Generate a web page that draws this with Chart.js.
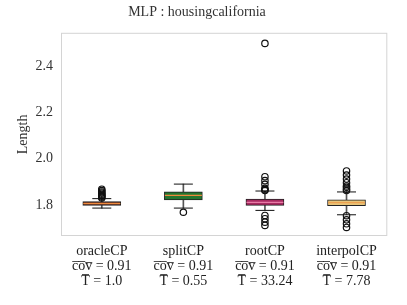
<!DOCTYPE html>
<html>
<head>
<meta charset="utf-8">
<script src="https://cdn.jsdelivr.net/npm/chart.js@4/dist/chart.umd.min.js"></script>
<style>
  html, body { margin: 0; padding: 0; background: #fff; }
  #wrap { width: 407px; height: 305px; }
</style>
</head>
<body>
<div id="wrap"><canvas id="boxChart"></canvas></div>
<script>
// values
const methods    = ['oracleCP', 'splitCP', 'rootCP', 'interpolCP'];
const covValues  = ['0.91', '0.91', '0.91', '0.91'];
const timeValues = ['1.0', '0.55', '33.24', '7.78'];

const whiskerLow  = [1.786, 1.786, 1.776, 1.757];
const q1          = [1.798, 1.821, 1.798, 1.796];
const median      = [1.806, 1.841, 1.811, 1.810];
const q3          = [1.814, 1.857, 1.825, 1.822];
const whiskerHigh = [1.827, 1.890, 1.860, 1.856];

const outliers = [
  [1.830, 1.834, 1.838, 1.842, 1.846, 1.851, 1.856, 1.862, 1.868],
  [1.768],
  [1.711, 1.725, 1.740, 1.754, 1.862, 1.866, 1.872, 1.889, 1.905, 1.922, 2.500],
  [1.702, 1.718, 1.735, 1.753, 1.862, 1.868, 1.876, 1.882, 1.896, 1.912, 1.929, 1.947]
];

const yTicks = [1.8, 2.0, 2.2, 2.4];

const boxColors    = ['#83432a', '#25752f', '#a82a60', '#e6c47a'];
const medianColors = ['#ee8a3c', '#ee8a3c', '#e87aa6', '#eda050'];

const serif = "'Liberation Serif', 'DejaVu Serif', serif";

const capPoints = [];
methods.forEach((m, i) => {
  capPoints.push({ x: m, y: whiskerLow[i] });
  capPoints.push({ x: m, y: whiskerHigh[i] });
});

const outlierPoints = [];
methods.forEach((m, i) => {
  outliers[i].forEach(v => outlierPoints.push({ x: m, y: v }));
});

const framePlugin = {
  id: 'frame',
  afterDraw(chart) {
    const a = chart.chartArea;
    const ctx = chart.ctx;
    ctx.save();
    ctx.strokeStyle = '#d4d4d4';
    ctx.lineWidth = 1;
    ctx.strokeRect(a.left + 0.5, a.top + 0.5, a.right - a.left - 1, a.bottom - a.top - 1);
    ctx.restore();
  }
};

new Chart(document.getElementById('boxChart'), {
  type: 'bar',
  data: {
    labels: methods,
    datasets: [
      {
        type: 'line',
        label: 'outliers',
        data: outlierPoints,
        showLine: false,
        pointStyle: 'circle',
        pointRadius: 3.2,
        pointBackgroundColor: 'rgba(0,0,0,0)',
        pointBorderColor: '#111',
        pointBorderWidth: 1.2,
        order: 0
      },
      {
        type: 'line',
        label: 'median',
        data: median,
        showLine: false,
        pointStyle: 'line',
        pointRadius: 18.5,
        pointBorderColor: medianColors,
        pointBorderWidth: 1.2,
        order: 1
      },
      {
        type: 'line',
        label: 'caps',
        data: capPoints,
        showLine: false,
        pointStyle: 'line',
        pointRadius: 9.5,
        pointBorderColor: '#111',
        pointBorderWidth: 1,
        order: 2
      },
      {
        label: 'box',
        data: methods.map((m, i) => [q1[i], q3[i]]),
        backgroundColor: boxColors,
        borderColor: '#222',
        borderWidth: 1,
        borderSkipped: false,
        barThickness: 38,
        grouped: false,
        order: 3
      },
      {
        label: 'whisker',
        data: methods.map((m, i) => [whiskerLow[i], whiskerHigh[i]]),
        backgroundColor: '#555',
        borderWidth: 0,
        barThickness: 1,
        grouped: false,
        order: 4
      }
    ]
  },
  options: {
    responsive: true,
    maintainAspectRatio: false,
    animation: false,
    layout: {
      padding: { left: 0, right: 13, top: 0, bottom: 0 }
    },
    plugins: {
      legend: { display: false },
      tooltip: { enabled: false },
      title: {
        display: true,
        text: 'MLP : housingcalifornia',
        color: '#333',
        font: { family: serif, size: 14, weight: 'normal' },
        padding: { top: 4, bottom: 12 }
      }
    },
    scales: {
      x: {
        grid: { display: false, drawTicks: false },
        border: { display: false },
        afterFit: axis => { axis.height = 69; },
        ticks: {
          color: '#222',
          padding: 8,
          maxRotation: 0,
          autoSkip: false,
          font: { family: serif, size: 14, lineHeight: 1.08 },
          callback: (v, i) => [methods[i], 'c\u0305o\u0305v\u0305 = ' + covValues[i], 'T\u0305 = ' + timeValues[i]]
        }
      },
      y: {
        min: 1.665,
        max: 2.546,
        grid: { display: false, drawTicks: false },
        border: { display: false },
        afterFit: axis => { axis.width = 61; },
        afterBuildTicks: axis => { axis.ticks = yTicks.map(v => ({ value: v })); },
        ticks: {
          color: '#333',
          padding: 8,
          font: { family: serif, size: 14 },
          callback: v => v.toFixed(1)
        },
        title: {
          display: true,
          text: 'Length',
          color: '#333',
          font: { family: serif, size: 14 },
          padding: { top: 15, bottom: 0 }
        }
      }
    }
  },
  plugins: [framePlugin]
});
</script>
</body>
</html>
